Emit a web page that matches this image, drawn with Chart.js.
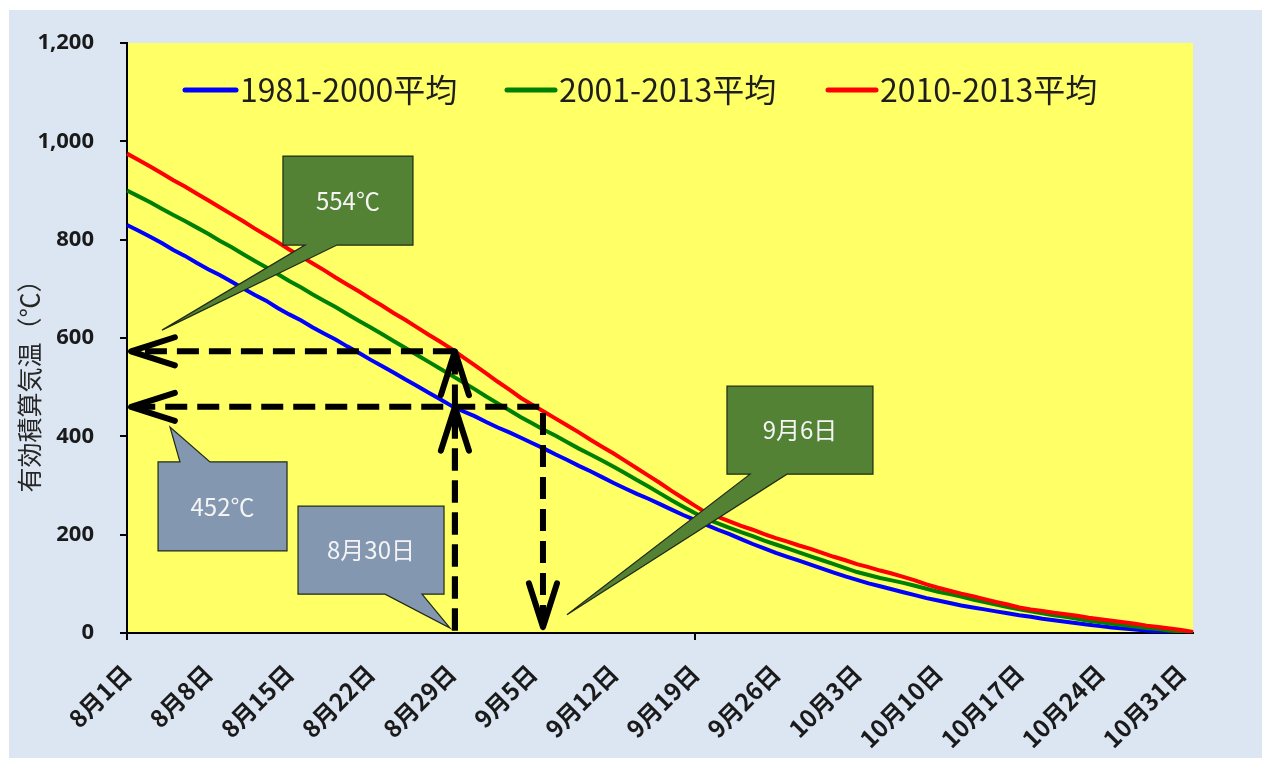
<!DOCTYPE html>
<html>
<head>
<meta charset="utf-8">
<script src="https://cdn.jsdelivr.net/npm/chart.js@4.4.0/dist/chart.umd.min.js"></script>
<style>
  html, body { margin: 0; padding: 0; background: #fff; }
  #wrap { width: 1264px; height: 763px; position: relative; }
</style>
</head>
<body>
<div id="wrap"><canvas id="chartOnsei"></canvas></div>
<script>
// 8/1 .. 11/1, one point a day
const months = [[8, 31], [9, 30], [10, 31], [11, 1]];
const days = [];
months.forEach(([m, n]) => { for (let d = 1; d <= n; d++) days.push(m + '月' + d + '日'); });

const seriesNames = ['1981-2000平均', '2001-2013平均', '2010-2013平均'];
const seriesColors = ['#0000ff', '#008000', '#ff0000'];

const blue = [
  830, 818, 806, 793, 779, 767, 753, 740,
  728, 715, 701, 688, 676, 661, 648,
  636, 622, 609, 597, 583, 570, 556,
  543, 530, 516, 503, 489, 476, 462,
  451, 441, 429, 418, 408, 397,
  386, 375, 363, 352, 340, 329, 317, 305,
  294, 283, 273, 262, 251, 240, 230, 220,
  210, 201, 191, 181, 172, 163,
  155, 147, 139, 131, 123, 115, 108,
  101, 95, 89, 83, 77, 71, 66,
  61, 56, 52, 48, 44, 40, 36,
  33, 29, 26, 23, 20, 17, 14,
  11, 9, 7, 5, 3, 2, 1, 0
];
const green = [
  900, 888, 876, 863, 850, 838, 825, 812,
  798, 785, 771, 757, 744, 730, 716,
  703, 689, 676, 663, 649, 635, 622,
  608, 594, 580, 566, 552, 538, 524,
  510, 496, 481, 467, 453, 439,
  426, 413, 401, 388, 375, 363, 351, 338,
  325, 311, 298, 284, 270, 257, 244, 232,
  223, 214, 205, 197, 188, 180,
  172, 164, 156, 148, 140, 132, 124,
  118, 112, 107, 102, 96, 90, 84,
  79, 74, 68, 63, 58, 53, 48,
  44, 40, 36, 33, 29, 25, 22,
  19, 16, 13, 10, 8, 5, 3, 0
];
const red = [
  975, 962, 949, 935, 921, 908, 894, 880,
  866, 852, 838, 823, 809, 795, 780,
  766, 752, 738, 723, 709, 695, 680,
  666, 651, 637, 622, 607, 593, 578,
  561, 545, 528, 511, 495, 478,
  464, 450, 436, 422, 408, 393, 379, 365,
  350, 335, 320, 305, 289, 274, 259, 244,
  236, 227, 218, 210, 201, 193,
  186, 178, 171, 163, 155, 148, 140,
  134, 127, 121, 114, 107, 99, 92,
  86, 80, 75, 69, 63, 58, 52,
  48, 45, 41, 38, 35, 31, 28,
  25, 22, 19, 15, 12, 9, 6, 2
];
const yTicks = [0, 200, 400, 600, 800, 1000, 1200];

// dashed guide arrows, in (day index, value)
const arrows = [
  { pts: [[28.3, 5], [28.3, 573]], heads: [false, true] },
  { pts: [[28.3, 5], [28.3, 460]], heads: [false, true] },
  { pts: [[28.3, 573], [0.35, 573]], heads: [false, true] },
  { pts: [[35.9, 12], [35.9, 460], [0.35, 460]], heads: [true, true] }
];

// callout boxes: box [x0, yTop, x1, yBottom], tail base on top/bottom edge, tip
const callouts = [
  { text: '554℃', fill: '#548235', box: [13.46, 970, 24.68, 789], edge: 'bottom', base: [15.36, 18.12], tip: [3.02, 616] },
  { text: '452℃', fill: '#8497b0', box: [2.68, 348, 13.81, 167], edge: 'top', base: [4.57, 7.16], tip: [3.71, 419] },
  { text: '8月30日', fill: '#8497b0', box: [14.76, 258, 27.36, 79], edge: 'bottom', base: [22.27, 25.46], tip: [27.88, 10] },
  { text: '9月6日', fill: '#548235', box: [51.78, 502, 64.38, 323], edge: 'bottom', base: [53.77, 56.96], tip: [37.97, 37] }
];

const jpFont = '"Noto Sans CJK JP", "Noto Sans", sans-serif';

const decor = {
  id: 'decor',
  beforeDraw(chart) {
    const c = chart.ctx, a = chart.chartArea;
    c.save();
    c.fillStyle = '#ffffff';
    c.fillRect(0, 0, chart.width, chart.height);
    c.fillStyle = '#dce6f2';
    c.fillRect(9, 10, chart.width - 11, chart.height - 15);
    c.fillStyle = '#ffff66';
    c.fillRect(a.left, a.top, a.right - a.left, a.bottom - a.top);
    c.restore();
  },
  afterDatasetsDraw(chart) {
    const c = chart.ctx, x = chart.scales.x, y = chart.scales.y;
    const P = (p) => [x.getPixelForValue(p[0]), y.getPixelForValue(p[1])];

    // guide arrows
    c.save();
    c.strokeStyle = '#000';
    c.lineWidth = 6;
    arrows.forEach(ar => {
      const pts = ar.pts.map(P);
      c.setLineDash([22, 10]);
      c.lineCap = 'butt';
      c.beginPath();
      pts.forEach((p, i) => i ? c.lineTo(p[0], p[1]) : c.moveTo(p[0], p[1]));
      c.stroke();
      c.setLineDash([]);
      c.lineCap = 'round';
      c.lineJoin = 'round';
      const head = (tip, from) => {
        const ang = Math.atan2(from[1] - tip[1], from[0] - tip[0]);
        const L = 46, s = 0.31;
        c.beginPath();
        c.moveTo(tip[0] + L * Math.cos(ang + s), tip[1] + L * Math.sin(ang + s));
        c.lineTo(tip[0], tip[1]);
        c.lineTo(tip[0] + L * Math.cos(ang - s), tip[1] + L * Math.sin(ang - s));
        c.stroke();
      };
      if (ar.heads[0]) head(pts[0], pts[1]);
      if (ar.heads[1]) head(pts[pts.length - 1], pts[pts.length - 2]);
    });
    c.restore();

    // callouts
    callouts.forEach(co => {
      const [x0, yT] = P([co.box[0], co.box[1]]);
      const [x1, yB] = P([co.box[2], co.box[3]]);
      const b0 = x.getPixelForValue(co.base[0]), b1 = x.getPixelForValue(co.base[1]);
      const t = P(co.tip);
      c.save();
      c.fillStyle = co.fill;
      c.strokeStyle = '#1f2a18';
      c.lineWidth = 1.2;
      c.beginPath();
      if (co.edge === 'bottom') {
        c.moveTo(x0, yT); c.lineTo(x1, yT); c.lineTo(x1, yB);
        c.lineTo(b1, yB); c.lineTo(t[0], t[1]); c.lineTo(b0, yB);
        c.lineTo(x0, yB); c.closePath();
      } else {
        c.moveTo(x0, yT); c.lineTo(b0, yT); c.lineTo(t[0], t[1]); c.lineTo(b1, yT);
        c.lineTo(x1, yT); c.lineTo(x1, yB); c.lineTo(x0, yB); c.closePath();
      }
      c.fill();
      c.stroke();
      c.fillStyle = '#f4f4f4';
      c.font = '24px ' + jpFont;
      c.textAlign = 'center';
      c.textBaseline = 'middle';
      c.fillText(co.text, (x0 + x1) / 2, (yT + yB) / 2);
      c.restore();
    });

    // legend inside the plot
    const lx = [[185, 236, 240], [507, 555, 559], [828, 876, 880]];
    c.save();
    c.font = '32px ' + jpFont;
    c.textBaseline = 'middle';
    c.textAlign = 'left';
    seriesNames.forEach((name, i) => {
      c.strokeStyle = seriesColors[i];
      c.lineWidth = 5;
      c.lineCap = 'round';
      c.beginPath();
      c.moveTo(lx[i][0], 90);
      c.lineTo(lx[i][1], 90);
      c.stroke();
      c.fillStyle = '#1e1e1e';
      c.fillText(name, lx[i][2], 90, 222);
    });
    c.restore();

    // y axis title
    c.save();
    c.translate(29, 380);
    c.rotate(-Math.PI / 2);
    c.font = '25px ' + jpFont;
    c.fillStyle = '#262626';
    c.textAlign = 'center';
    c.textBaseline = 'middle';
    c.fillText('有効積算気温（℃）', 0, 0);
    c.restore();
  }
};

new Chart(document.getElementById('chartOnsei'), {
  type: 'line',
  data: {
    labels: days,
    datasets: [
      { label: seriesNames[0], data: blue, borderColor: seriesColors[0], order: 3 },
      { label: seriesNames[1], data: green, borderColor: seriesColors[1], order: 2 },
      { label: seriesNames[2], data: red, borderColor: seriesColors[2], order: 1 }
    ]
  },
  options: {
    responsive: true,
    maintainAspectRatio: false,
    animation: false,
    devicePixelRatio: 1,
    layout: { padding: { top: 43, right: 71, left: 0, bottom: 0 } },
    elements: {
      line: { borderWidth: 4, tension: 0, fill: false },
      point: { radius: 0, hoverRadius: 0 }
    },
    plugins: { legend: { display: false }, tooltip: { enabled: false } },
    scales: {
      x: {
        offset: false,
        afterFit: s => { s.height = 130; },
        border: { display: true, color: '#000', width: 2 },
        grid: {
          drawOnChartArea: false, drawTicks: true, tickLength: 7, lineWidth: 2,
          color: ctx => (ctx.index % 7 === 0 ? '#000' : 'rgba(0,0,0,0)')
        },
        ticks: {
          autoSkip: false, maxRotation: 45, minRotation: 45, padding: 19,
          color: '#1a1a1a',
          font: { family: jpFont, size: 24, weight: 'bold' },
          callback: function (v, i) { return i % 7 === 0 ? days[i] : null; }
        }
      },
      y: {
        min: 0, max: 1200,
        afterFit: s => { s.width = 127; },
        afterBuildTicks: s => { s.ticks = yTicks.map(v => ({ value: v })); },
        border: { display: true, color: '#000', width: 2 },
        grid: { drawOnChartArea: false, drawTicks: true, tickLength: 7, lineWidth: 2, color: '#000' },
        ticks: {
          padding: 26,
          color: '#1a1a1a',
          font: { family: '"Noto Sans", sans-serif', size: 22, weight: 'bold' },
          callback: v => v.toLocaleString('en-US')
        }
      }
    }
  },
  plugins: [decor]
});
</script>
</body>
</html>
